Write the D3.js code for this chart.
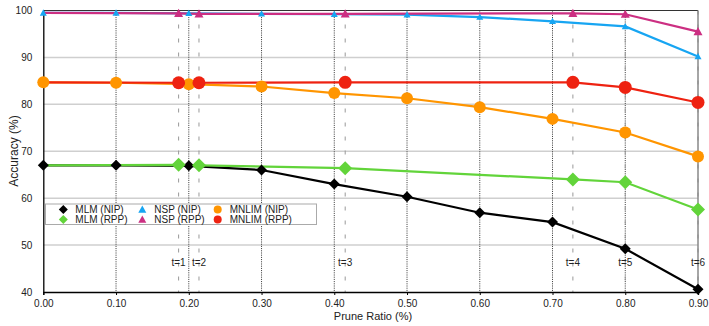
<!DOCTYPE html>
<html><head><meta charset="utf-8">
<script src="https://cdn.jsdelivr.net/npm/d3@7"></script>
<style>body{margin:0;background:#fff}svg{display:block;font-family:"Liberation Sans",Arial,sans-serif}</style>
</head><body><svg id="c" width="709" height="326"></svg>
<script>
const xNIP = [0.0, 0.1, 0.2, 0.3, 0.4, 0.5, 0.6, 0.7, 0.8, 0.9];
const xRPP = [0.0, 0.186, 0.214, 0.415, 0.728, 0.80, 0.90];
const tLabels = ["", "t=1", "t=2", "t=3", "t=4", "t=5", "t=6"];
const xTicks = [0.0, 0.1, 0.2, 0.3, 0.4, 0.5, 0.6, 0.7, 0.8, 0.9];
const yTicks = [40, 50, 60, 70, 80, 90, 100];
const mlmNIP   = [67.0, 67.0, 66.9, 66.0, 63.0, 60.3, 56.9, 54.9, 49.2, 40.6];
const mlmRPP   = [67.0, 67.1, 67.0, 66.4, 64.0, 63.4, 57.6];
const nspNIP   = [99.5, 99.5, 99.4, 99.3, 99.2, 99.1, 98.6, 97.7, 96.6, 90.2];
const nspRPP   = [99.5, 99.4, 99.3, 99.3, 99.4, 99.2, 95.5];
const mnlimNIP = [84.7, 84.6, 84.3, 83.8, 82.4, 81.3, 79.4, 76.9, 74.0, 68.9];
const mnlimRPP = [84.7, 84.6, 84.6, 84.7, 84.7, 83.6, 80.4];
const seriesNames = ["MLM (NIP)", "MLM (RPP)", "NSP (NIP)", "NSP (RPP)", "MNLIM (NIP)", "MNLIM (RPP)"];

const series = [
  {name: seriesNames[0], xs: xNIP, ys: mlmNIP, color: "#000000", shape: "diamond", size: 11, skip0: false},
  {name: seriesNames[1], xs: xRPP, ys: mlmRPP, color: "#62d43a", shape: "diamond", size: 14, skip0: true},
  {name: seriesNames[2], xs: xNIP, ys: nspNIP, color: "#17a5f2", shape: "triangle", size: 7, skip0: false},
  {name: seriesNames[3], xs: xRPP, ys: nspRPP, color: "#cc2f82", shape: "triangle", size: 9, skip0: true},
  {name: seriesNames[4], xs: xNIP, ys: mnlimNIP, color: "#ff9500", shape: "circle", size: 12, skip0: false},
  {name: seriesNames[5], xs: xRPP, ys: mnlimRPP, color: "#ee2211", shape: "circle", size: 13, skip0: true}
];

const svg = d3.select("#c");
const x = d3.scaleLinear().domain([0, 0.9]).range([43.3, 698]);
const y = d3.scaleLinear().domain([40, 100]).range([292, 10.5]);

// horizontal grid
svg.append("g").selectAll("line").data(yTicks.filter(v => v > 40 && v < 100)).join("line")
  .attr("x1", x(0)).attr("x2", x(0.9)).attr("y1", d => y(d)).attr("y2", d => y(d))
  .attr("stroke", "#cfcfcf").attr("stroke-width", 1.5);

// vertical dotted grid
svg.append("g").selectAll("line").data(xTicks.filter(v => v > 0 && v < 0.9)).join("line")
  .attr("x1", d => x(d)).attr("x2", d => x(d)).attr("y1", y(100)).attr("y2", y(40))
  .attr("stroke", "#333").attr("stroke-width", 1).attr("stroke-dasharray", "1,1.2");

// dashed t lines
svg.append("g").selectAll("line").data(xRPP.slice(1)).join("line")
  .attr("x1", d => x(d)).attr("x2", d => x(d)).attr("y1", y(100)).attr("y2", y(40))
  .attr("stroke", "#999").attr("stroke-width", 1).attr("stroke-dasharray", "4,10");

// frame top and right
svg.append("line").attr("x1", x(0)).attr("x2", x(0.9)).attr("y1", y(100)).attr("y2", y(100))
  .attr("stroke", "#333").attr("stroke-width", 1);
svg.append("line").attr("x1", x(0.9)).attr("x2", x(0.9)).attr("y1", y(100)).attr("y2", y(40))
  .attr("stroke", "#888").attr("stroke-width", 1.5);

// axes
const xAxis = svg.append("g").attr("transform", `translate(0,${y(40)})`)
  .call(d3.axisBottom(x).tickValues(xTicks).tickFormat(d3.format(".2f")).tickSize(3).tickPadding(5));
xAxis.select(".domain").attr("stroke", "#000").attr("stroke-width", 1.3);
xAxis.selectAll("text").attr("font-size", 10).attr("fill", "#222").attr("font-family", null);
const yAxis = svg.append("g").attr("transform", `translate(${x(0)},0)`)
  .call(d3.axisLeft(y).tickValues(yTicks).tickSize(0).tickPadding(11));
yAxis.select(".domain").attr("stroke", "#000").attr("stroke-width", 1.3);
yAxis.selectAll("text").attr("font-size", 10).attr("fill", "#222").attr("font-family", null);

// axis titles
svg.append("text").attr("x", 373).attr("y", 320).attr("text-anchor", "middle")
  .attr("font-size", 11).attr("fill", "#222").text("Prune Ratio (%)");
svg.append("text").attr("transform", "translate(18,151) rotate(-90)").attr("text-anchor", "middle")
  .attr("font-size", 12).attr("fill", "#222").text("Accuracy (%)");

// t labels
svg.append("g").selectAll("text").data(xRPP.map((v, i) => ({v, t: tLabels[i]})).filter(d => d.t)).join("text")
  .attr("x", d => x(d.v)).attr("y", 266).attr("text-anchor", "middle")
  .attr("font-size", 10).attr("fill", "#222").text(d => d.t);

const line = d3.line().x(d => x(d[0])).y(d => y(d[1]));
series.forEach(s => {
  svg.append("path").attr("d", line(s.xs.map((v, i) => [v, s.ys[i]])))
    .attr("fill", "none").attr("stroke", s.color).attr("stroke-width", 2.2);
});

function markerPath(shape, size) {
  const r = size / 2;
  if (shape === "diamond") return `M0,${-r}L${r},0L0,${r}L${-r},0Z`;
  if (shape === "triangle") return `M0,${-r}L${r},${r * 0.8}L${-r},${r * 0.8}Z`;
  return d3.symbol().type(d3.symbolCircle).size(Math.PI * r * r)();
}
series.forEach(s => {
  const pts = s.xs.map((v, i) => [v, s.ys[i]]).filter((d, i) => !(s.skip0 && i === 0));
  svg.append("g").selectAll("path").data(pts).join("path")
    .attr("transform", d => `translate(${x(d[0])},${y(d[1])})`)
    .attr("d", markerPath(s.shape, s.size)).attr("fill", s.color);
});

// legend
const lg = svg.append("g");
lg.append("rect").attr("x", 45.5).attr("y", 204).attr("width", 271).attr("height", 20.5)
  .attr("fill", "#fff").attr("stroke", "#aaa").attr("stroke-width", 1);
const colX = [63.3, 142.3, 217.7];
const rowY = [209.5, 219.5];
series.forEach((s, i) => {
  const cx = colX[Math.floor(i / 2)], cy = rowY[i % 2];
  lg.append("path").attr("transform", `translate(${cx},${cy})`)
    .attr("d", markerPath(s.shape, s.shape === "circle" ? 8 : (s.shape === "diamond" ? 9 : 8))).attr("fill", s.color);
  lg.append("text").attr("x", cx + 12).attr("y", cy + 3.6).attr("font-size", 10).attr("fill", "#222").text(s.name);
});
</script></body></html>
